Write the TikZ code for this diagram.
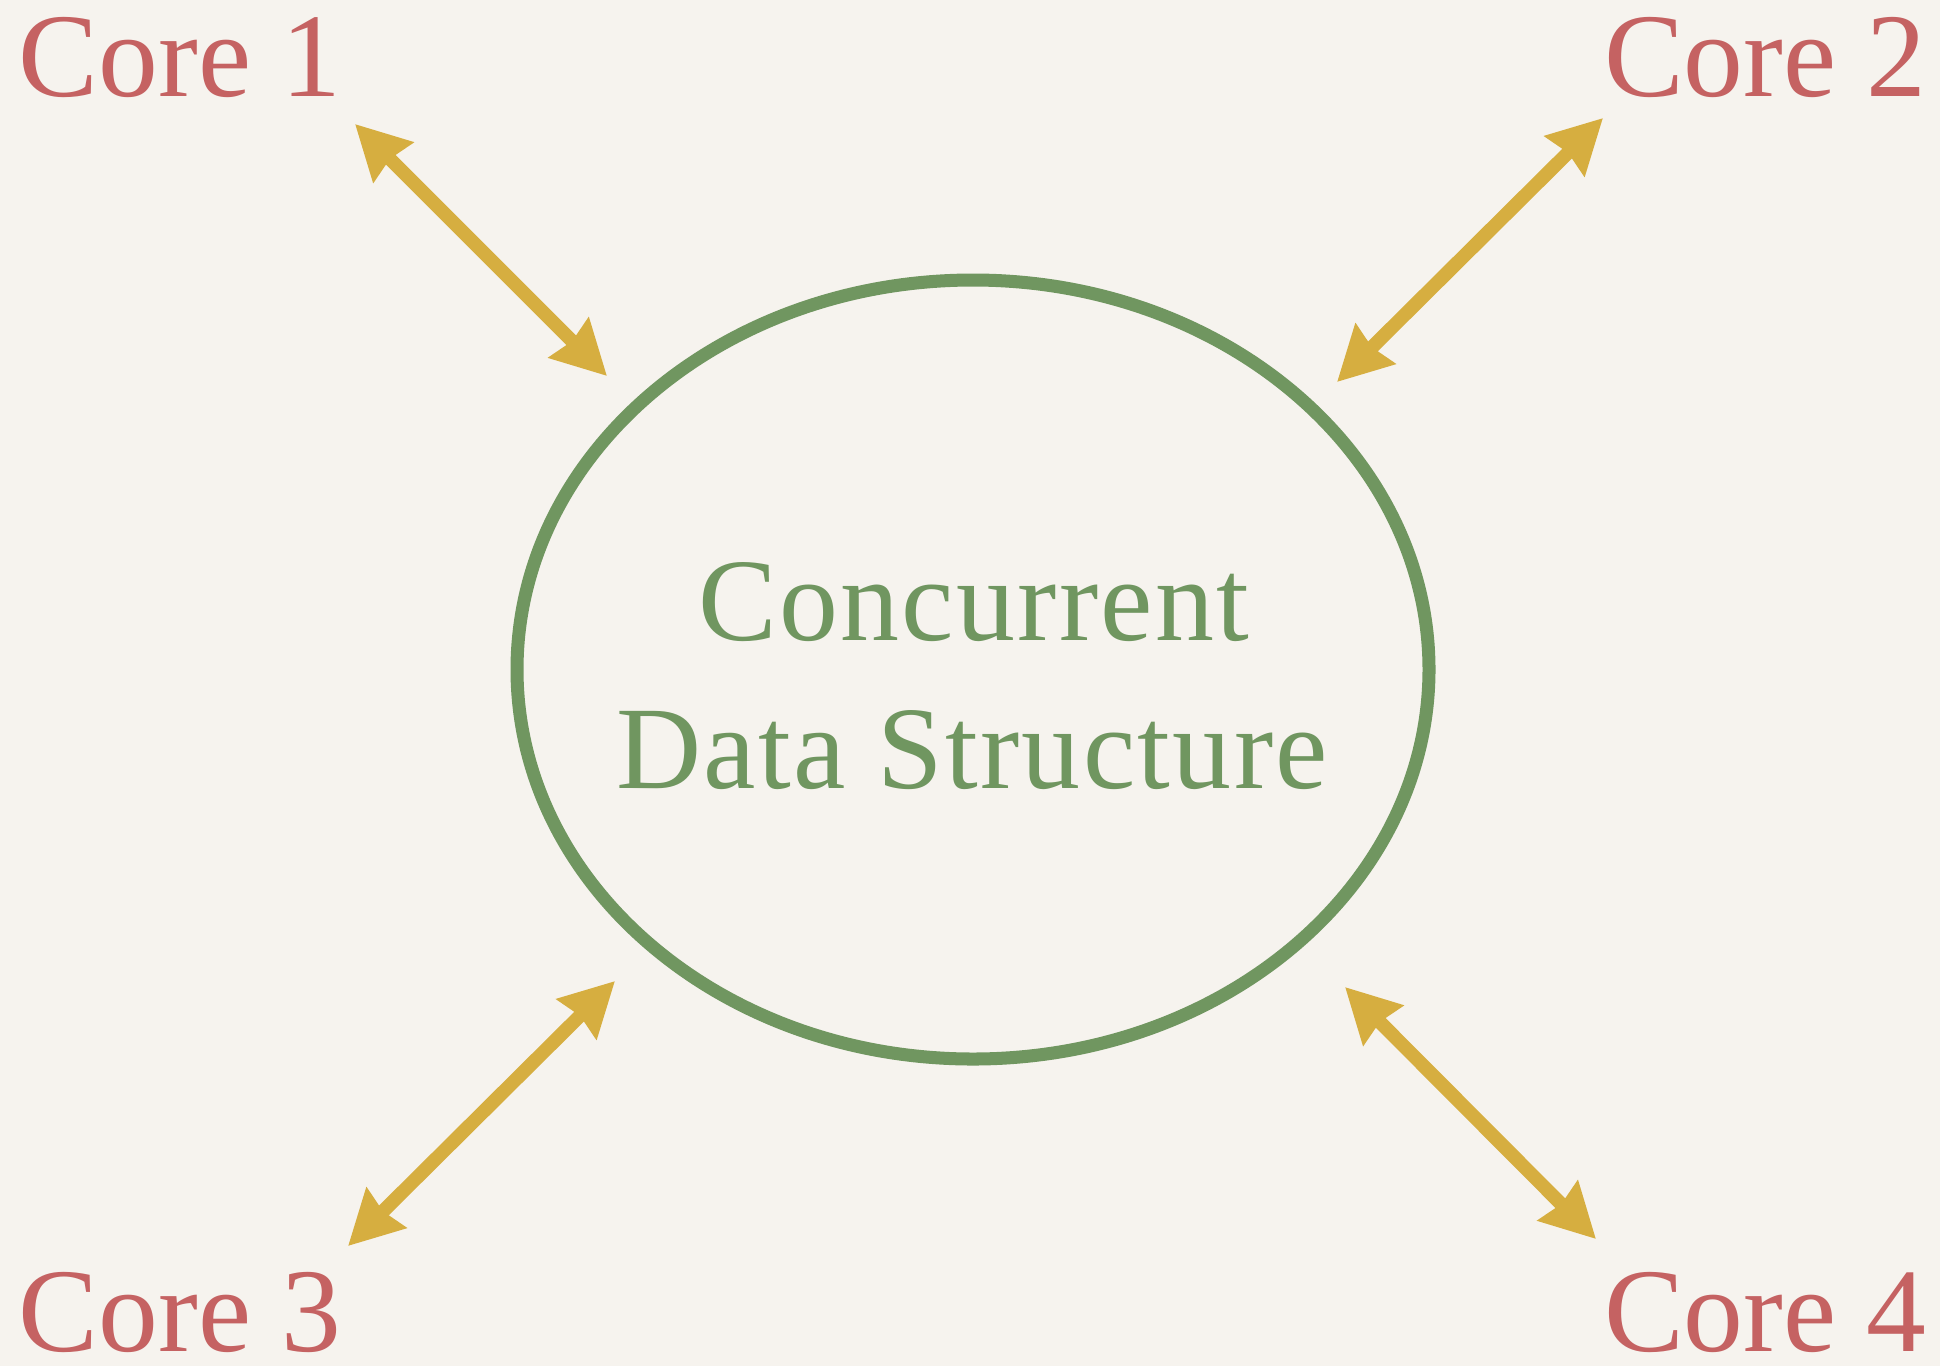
\documentclass[tikz,border=0pt]{standalone}
\usepackage{fontspec}
\setmainfont{Liberation Serif}
\newfontfamily\dsfont[LetterSpace=2]{Liberation Serif}
\usetikzlibrary{arrows.meta,shapes.geometric}

\definecolor{paper}{HTML}{F6F3EE}
\definecolor{corered}{HTML}{C56262}
\definecolor{dsgreen}{HTML}{709660}
\definecolor{linkgold}{HTML}{D6AE40}

\newlength{\pxunit}
\setlength{\pxunit}{0.01cm}

\tikzset{
  corelabel/.style={inner sep=0pt, text=corered, font=\fontsize{34}{40}\selectfont},
  dslabel/.style={inner sep=0pt, text=dsgreen, anchor=base, font=\dsfont\fontsize{33.5}{40}\selectfont},
  dsring/.style={ellipse, draw=dsgreen, line width=3.7pt, inner sep=0pt,
                 minimum width=912\pxunit, minimum height=779\pxunit},
  link/.style={draw=linkgold, line width=3.9pt,
               {Stealth[length=15.2pt, width=15.6pt, inset=1.2pt]}-{Stealth[length=15.2pt, width=15.6pt, inset=1.2pt]}},
}

\begin{document}
\begin{tikzpicture}[x=0.01cm, y=-0.01cm]
  % paper background, fixes the page size
  \fill[paper] (0,0) rectangle (1940,1366);
  \useasboundingbox (0,0) rectangle (1940,1366);

  % the shared structure
  \node[dsring] (ds) at (973,669.5) {};
  \node[dslabel] (dsline1) at (974,640) {Concurrent};
  \node[dslabel] (dsline2) at (972,788) {Data Structure};

  % the four cores
  \node[corelabel, anchor=base west] (core1) at (18,96) {Core 1};
  \node[corelabel, anchor=base east] (core2) at (1927,96) {Core 2};
  \node[corelabel, anchor=base west] (core3) at (18,1351) {Core 3};
  \node[corelabel, anchor=base east] (core4) at (1927,1351) {Core 4};

  % arrow ends next to each core and next to the ring
  \coordinate (c1end) at (355,124);
  \coordinate (r1end) at (607,376);
  \coordinate (c2end) at (1603,118);
  \coordinate (r2end) at (1337,382);
  \coordinate (c3end) at (348,1246);
  \coordinate (r3end) at (615,981);
  \coordinate (c4end) at (1596,1239);
  \coordinate (r4end) at (1345,987);

  % two-way access between each core and the structure
  \draw[link] (c1end) -- (r1end);
  \draw[link] (c2end) -- (r2end);
  \draw[link] (c3end) -- (r3end);
  \draw[link] (c4end) -- (r4end);
\end{tikzpicture}
\end{document}
